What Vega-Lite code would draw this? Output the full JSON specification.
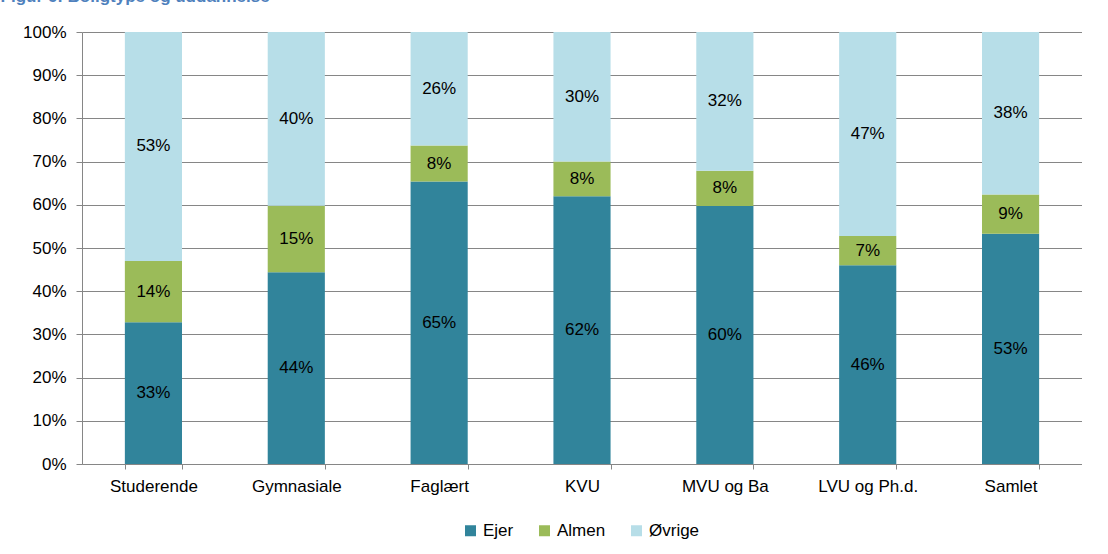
{
  "$schema": "https://vega.github.io/schema/vega-lite/v6.json",
  "width": 1000,
  "height": 432,
  "autosize": {"type": "pad"},
  "padding": {"left": 0, "top": -12, "right": 0, "bottom": 0},
  "background": "white",
  "title": {"text": "Figur 6: Boligtype og uddannelse", "anchor": "start", "frame": "bounds", "color": "#4F81BD", "fontSize": 17, "font": "Liberation Sans", "fontWeight": "bold", "dy": -13, "dx": -22},
  "data": {"values": [
    {"uddannelse": "Studerende", "type": "Ejer", "nr": 1, "andel": 0.328},
    {"uddannelse": "Studerende", "type": "Almen", "nr": 2, "andel": 0.142},
    {"uddannelse": "Studerende", "type": "Øvrige", "nr": 3, "andel": 0.530},
    {"uddannelse": "Gymnasiale", "type": "Ejer", "nr": 1, "andel": 0.444},
    {"uddannelse": "Gymnasiale", "type": "Almen", "nr": 2, "andel": 0.154},
    {"uddannelse": "Gymnasiale", "type": "Øvrige", "nr": 3, "andel": 0.402},
    {"uddannelse": "Faglært", "type": "Ejer", "nr": 1, "andel": 0.654},
    {"uddannelse": "Faglært", "type": "Almen", "nr": 2, "andel": 0.083},
    {"uddannelse": "Faglært", "type": "Øvrige", "nr": 3, "andel": 0.263},
    {"uddannelse": "KVU", "type": "Ejer", "nr": 1, "andel": 0.620},
    {"uddannelse": "KVU", "type": "Almen", "nr": 2, "andel": 0.080},
    {"uddannelse": "KVU", "type": "Øvrige", "nr": 3, "andel": 0.300},
    {"uddannelse": "MVU og Ba", "type": "Ejer", "nr": 1, "andel": 0.597},
    {"uddannelse": "MVU og Ba", "type": "Almen", "nr": 2, "andel": 0.082},
    {"uddannelse": "MVU og Ba", "type": "Øvrige", "nr": 3, "andel": 0.321},
    {"uddannelse": "LVU og Ph.d.", "type": "Ejer", "nr": 1, "andel": 0.460},
    {"uddannelse": "LVU og Ph.d.", "type": "Almen", "nr": 2, "andel": 0.068},
    {"uddannelse": "LVU og Ph.d.", "type": "Øvrige", "nr": 3, "andel": 0.472},
    {"uddannelse": "Samlet", "type": "Ejer", "nr": 1, "andel": 0.533},
    {"uddannelse": "Samlet", "type": "Almen", "nr": 2, "andel": 0.091},
    {"uddannelse": "Samlet", "type": "Øvrige", "nr": 3, "andel": 0.376}
  ]},
  "config": {
    "font": "Liberation Sans",
    "view": {"stroke": null},
    "axis": {"labelFont": "Liberation Sans", "labelFontSize": 17, "labelColor": "#000000", "domainColor": "#868686", "tickColor": "#868686", "gridColor": "#868686", "title": null}
  },
  "encoding": {
    "x": {"field": "uddannelse", "type": "nominal", "sort": ["Studerende", "Gymnasiale", "Faglært", "KVU", "MVU og Ba", "LVU og Ph.d.", "Samlet"],
      "scale": {"paddingInner": 0.6, "paddingOuter": 0.3},
      "axis": {"labelAngle": 0, "tickBand": "extent", "ticks": true, "tickSize": 5, "labelPadding": 9, "domain": true, "grid": false}}
  },
  "layer": [
    {
      "mark": {"type": "bar"},
      "encoding": {
        "y": {"field": "andel", "type": "quantitative", "stack": "zero", "scale": {"domain": [0, 1]},
          "axis": {"format": ".0%", "values": [0, 0.1, 0.2, 0.3, 0.4, 0.5, 0.6, 0.7, 0.8, 0.9, 1], "grid": true, "tickSize": 6, "labelPadding": 10}},
        "color": {"field": "type", "type": "nominal", "sort": ["Ejer", "Almen", "Øvrige"],
          "scale": {"domain": ["Ejer", "Almen", "Øvrige"], "range": ["#31849B", "#9BBB59", "#B7DEE8"]},
          "legend": {"title": null, "orient": "none", "legendX": 380, "legendY": 490, "direction": "horizontal", "symbolType": "square", "symbolSize": 121, "symbolStrokeWidth": 0, "labelFontSize": 17, "labelFont": "Liberation Sans", "labelColor": "#000000", "columnPadding": 22}},
        "order": {"field": "nr", "type": "quantitative", "sort": "ascending"}
      }
    },
    {
      "transform": [
        {"stack": "andel", "groupby": ["uddannelse"], "sort": [{"field": "nr", "order": "ascending"}], "as": ["s0", "s1"]},
        {"calculate": "(datum.s0 + datum.s1) / 2", "as": "mid"}
      ],
      "mark": {"type": "text", "fontSize": 17, "color": "#000000", "font": "Liberation Sans"},
      "encoding": {
        "y": {"field": "mid", "type": "quantitative"},
        "text": {"field": "andel", "type": "quantitative", "format": ".0%"}
      }
    }
  ]
}
